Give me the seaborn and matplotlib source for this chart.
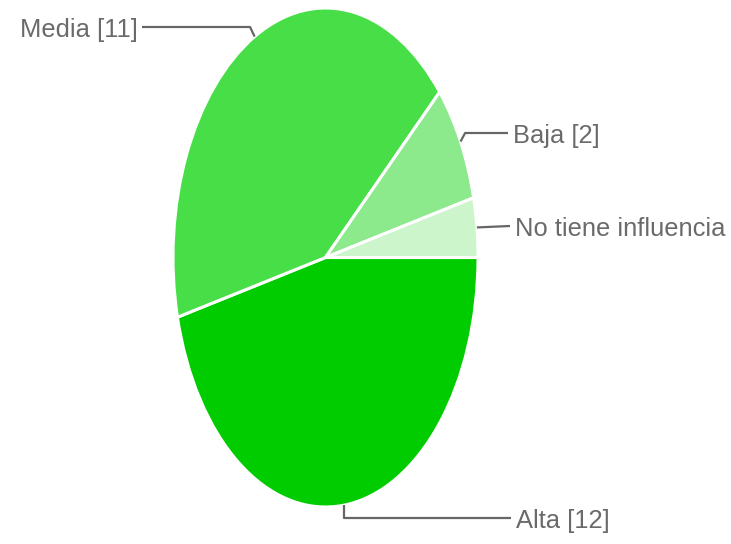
import numpy as np
import matplotlib
matplotlib.use('Agg')
import matplotlib.pyplot as plt
import seaborn as sns

# data
labels = ['Alta [12]', 'Media [11]', 'Baja [2]', 'No tiene influencia']
values = [12, 11, 2, 1]
colors = ['#00cc00', '#48de48', '#8ce98c', '#ccf5cc']

# label layout (pixel positions in the 731x544 picture)
label_line_y = [518, 27, 133, 226]
label_text_x = [516, 138, 513, 515]
label_side = ['right', 'left', 'right', 'right']

W, H = 731, 544
CX, CY, RX, RY = 325.5, 257.5, 152.5, 249.5


def px_to_data(px, py):
    return (px - CX) / RX, (CY - py) / RY


def main():
    sns.set_theme(style='white')
    plt.rcParams['font.family'] = ['Liberation Sans', 'DejaVu Sans']

    fig = plt.figure(figsize=(W / 100, H / 100), dpi=100)
    ax = fig.add_axes([(CX - RX) / W, (H - CY - RY) / H, 2 * RX / W, 2 * RY / H])

    wedges, _ = ax.pie(values, colors=colors, startangle=0, counterclock=False,
                       radius=1.0,
                       wedgeprops=dict(edgecolor='white', linewidth=2.2))
    ax.set_aspect('auto')
    ax.set_xlim(-1, 1)
    ax.set_ylim(-1, 1)
    ax.axis('off')

    # leader lines and labels
    for w, lab, ly, tx, side in zip(wedges, labels, label_line_y, label_text_x, label_side):
        mid = np.deg2rad((w.theta1 + w.theta2) / 2)
        ax_x, ax_y = np.cos(mid), np.sin(mid)
        _, y_line = px_to_data(0, ly)
        if side == 'right':
            x_end, _ = px_to_data(tx - 5, 0)
        else:
            x_end, _ = px_to_data(tx + 4, 0)
        bend_x = ax_x + (0.03 if side == 'right' else -0.03)
        if abs(ax_y - y_line) < 0.02:
            xs, ys = [ax_x, x_end], [ax_y, y_line]
        elif ax_y < -0.9:
            xs, ys = [ax_x, ax_x, x_end], [ax_y, y_line, y_line]
        else:
            xs, ys = [ax_x, bend_x, x_end], [ax_y, y_line, y_line]
        ax.plot(xs, ys, color='#666666', lw=1.6, clip_on=False, solid_capstyle='butt')

        text_x, text_y = px_to_data(tx, ly + 3)
        ax.text(text_x, text_y, lab, ha='left' if side == 'right' else 'right',
                va='center', fontsize=18.4, color='#6a6a6a', clip_on=False)

    fig.savefig('out.png', dpi=100, facecolor='white')
    plt.close(fig)


if __name__ == '__main__':
    main()
